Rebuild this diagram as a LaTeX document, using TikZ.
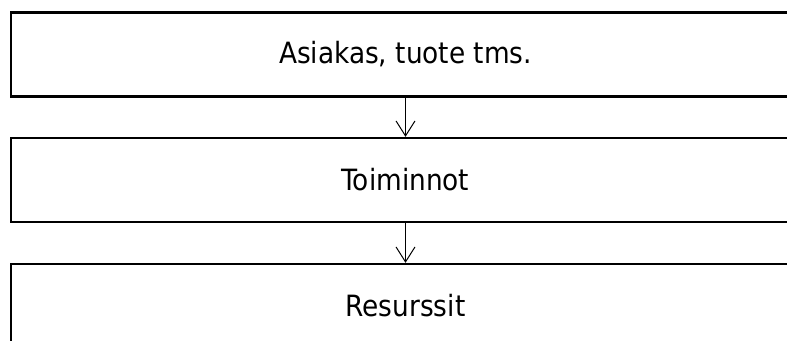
\documentclass[tikz,border=0pt]{standalone}
\usepackage{fontspec}
\setmainfont{DejaVu Sans Condensed}
\usetikzlibrary{arrows.meta}
\begin{document}
\begin{tikzpicture}[x=1pt,y=1pt,
  box/.style={draw=black, line width=2.3pt, minimum width=789pt, minimum height=84pt, inner sep=0pt, font=\fontsize{29.3}{33}\selectfont},
  conn/.style={line width=1pt, -{Straight Barb[length=15pt,width=19pt,line width=1pt]}}]
\useasboundingbox (0,0) rectangle (787,340);
\node[box] (a) at (405.5,285.5) {Asiakas, tuote tms.};
\node[box] (b) at (405.5,160) {Toiminnot};
\node[box] (c) at (405.5,34) {Resurssit};
\draw[conn] (a.south) -- (b.north);
\draw[conn] (b.south) -- (c.north);
\end{tikzpicture}
\end{document}
